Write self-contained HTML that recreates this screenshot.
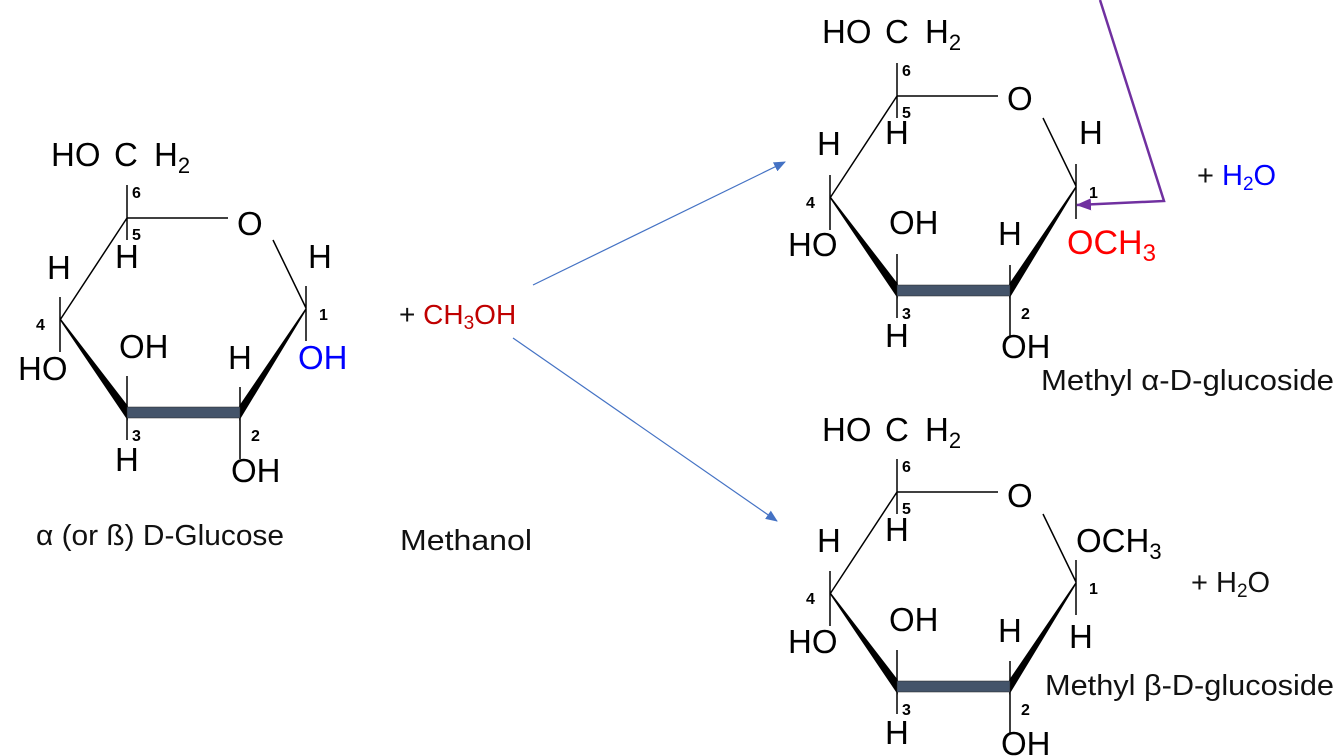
<!DOCTYPE html>
<html><head><meta charset="utf-8"><style>
html,body{margin:0;padding:0;background:#fff;width:1334px;height:756px;overflow:hidden}
svg{display:block;font-family:"Liberation Sans",sans-serif}
.c{font-size:33px;fill:#000}
.n{font-size:16px;font-weight:bold;fill:#000}
.t{font-size:29px;fill:#111}
.s{font-size:22px}
</style></head><body>
<svg width="1334" height="756" viewBox="0 0 1334 756" xmlns="http://www.w3.org/2000/svg">
<defs>
<marker id="b" markerWidth="12" markerHeight="10" refX="11" refY="5" orient="auto" markerUnits="userSpaceOnUse"><path d="M0 0L12 5L0 10z" fill="#4472c4"/></marker>
<marker id="p" markerWidth="15" markerHeight="12" refX="14" refY="6" orient="auto" markerUnits="userSpaceOnUse"><path d="M0 0L15 6L0 12z" fill="#7030a0"/></marker>
<g id="shape">
<g stroke="#000" stroke-width="1.5" fill="none">
<path d="M127 185V240M127 218H228M273 240L306 308M306 286V341M127 218L60 320M60 297V352M127 376V440M240 387V459"/>
</g>
<path d="M60 319L127 406V418Z" fill="#000" stroke="#000" stroke-width="1.5"/>
<path d="M306 309L240 406V418Z" fill="#000" stroke="#000" stroke-width="1.5"/>
<rect x="127" y="407" width="113" height="11" fill="#44546a" stroke="#222" stroke-width=".5"/>
<text class="n" x="132" y="198">6</text><text class="n" x="132" y="240">5</text>
<text class="n" x="36" y="330">4</text><text class="n" x="319" y="320">1</text>
<text class="n" x="132" y="441">3</text><text class="n" x="251" y="441">2</text>
</g>
<g id="lab">
<text class="c" x="115" y="268">H</text>
<text class="c" x="47" y="279">H</text>
<text class="c" x="18" y="380">HO</text>
<text class="c" x="119" y="358">OH</text>
<text class="c" x="228" y="369">H</text>
<text class="c" x="115" y="471">H</text>
<text class="c" x="231" y="482">OH</text>
</g>
<g id="head">
<text class="c" x="51" y="166">HO</text><text class="c" x="114" y="166">C</text><text class="c" x="154" y="166">H<tspan class="s" dy="7">2</tspan></text>
</g>
</defs>

<use href="#shape"/><use href="#lab"/><use href="#head"/>
<text class="c" x="237" y="235">O</text>
<text class="c" x="308" y="268">H</text>
<text class="c" x="298" y="369" style="fill:#0000ff">OH</text>

<use href="#shape" x="770" y="-122"/><use href="#lab" x="770" y="-124"/><use href="#head" x="771" y="-123"/>
<text class="c" x="1007" y="110">O</text>
<text class="c" x="1079" y="144">H</text>
<text class="c" x="1067" y="254" style="fill:#ff0000;font-size:34px">OCH<tspan class="s" dy="7" font-size="24" style="font-size:24px">3</tspan></text>

<use href="#shape" x="770" y="274"/><use href="#lab" x="770" y="273"/><use href="#head" x="771" y="275"/>
<text class="c" x="1007" y="507">O</text>
<text class="c" x="1076" y="552" style="font-size:33px">OCH<tspan class="s" dy="7">3</tspan></text>
<text class="c" x="1069" y="648">H</text>

<line x1="533" y1="285" x2="785" y2="162" stroke="#4472c4" stroke-width="1.2" marker-end="url(#b)"/>
<line x1="513" y1="338" x2="777" y2="521" stroke="#4472c4" stroke-width="1.2" marker-end="url(#b)"/>
<path d="M1100 0L1164 201L1077 205" fill="none" stroke="#7030a0" stroke-width="2.5" marker-end="url(#p)"/>

<text class="t" x="399" y="324" style="font-size:28px">+ <tspan fill="#c00000">CH<tspan font-size="19" dy="5">3</tspan><tspan dy="-5">OH</tspan></tspan></text>
<text class="t" x="400" y="550" textLength="132" lengthAdjust="spacingAndGlyphs">Methanol</text>
<text class="t" x="36" y="545" textLength="248" lengthAdjust="spacingAndGlyphs">α (or ß) D-Glucose</text>
<text class="t" x="1041" y="390" textLength="293" lengthAdjust="spacingAndGlyphs">Methyl α-D-glucoside</text>
<text class="t" x="1045" y="695" textLength="289" lengthAdjust="spacingAndGlyphs">Methyl β-D-glucoside</text>
<text class="t" x="1197" y="185">+ <tspan fill="#0000ff">H<tspan font-size="19" dy="5">2</tspan><tspan dy="-5">O</tspan></tspan></text>
<text class="t" x="1191" y="592">+ H<tspan font-size="19" dy="5">2</tspan><tspan dy="-5">O</tspan></text>
</svg>
</body></html>
